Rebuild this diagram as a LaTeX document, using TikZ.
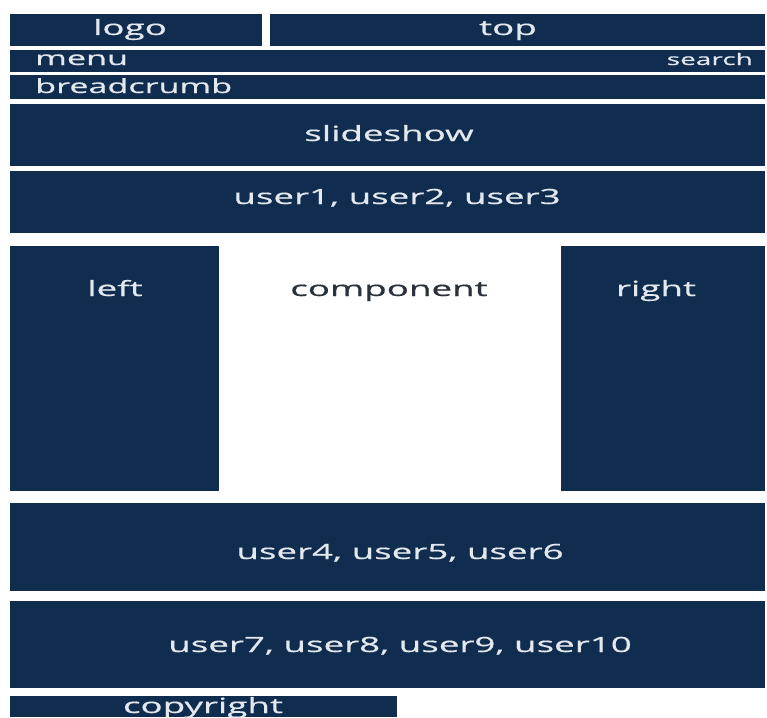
\documentclass[tikz,border=0pt]{standalone}
\usepackage{fontspec}
\setmainfont{Open Sans}[FakeStretch=1.75,FakeBold=0.6]
\usepackage{xcolor}
\usepackage{tikz}
\definecolor{navy}{RGB}{16,44,79}
\definecolor{pale}{RGB}{226,232,238}
\definecolor{ink}{RGB}{42,50,60}

\begin{document}
\begin{tikzpicture}[x=1pt,y=-1pt,
    block/.style={fill=navy, draw=none, inner sep=0pt, outer sep=0pt},
    big/.style={text=pale, font=\fontsize{21}{21}\selectfont, anchor=base, inner sep=0pt},
    small/.style={text=pale, font=\fontsize{19.5}{19.5}\selectfont, anchor=base, inner sep=0pt}]
                    \useasboundingbox[fill=white] (0,0) rectangle (767,717);

                    % header
                    \node[block, minimum width=252pt, minimum height=32pt] (logo) at (136,30) {};
                    \node[block, minimum width=495pt, minimum height=32pt] (top) at (517.5,30) {};
                    \node[block, minimum width=755pt, minimum height=22pt] (menu) at (387.5,61) {};
                    \node[block, minimum width=755pt, minimum height=24pt] (crumb) at (387.5,87) {};
                    \node[block, minimum width=755pt, minimum height=62pt] (slides) at (387.5,135) {};
                    \node[block, minimum width=755pt, minimum height=62pt] (userA) at (387.5,202) {};

                    % columns
                    \node[block, minimum width=209pt, minimum height=245pt] (left) at (114.5,368.5) {};
                    \node[block, minimum width=204pt, minimum height=245pt] (right) at (663,368.5) {};

                    % footer
                    \node[block, minimum width=755pt, minimum height=88pt] (userB) at (387.5,547) {};
                    \node[block, minimum width=755pt, minimum height=87pt] (userC) at (387.5,644.5) {};
                    \node[block, minimum width=387pt, minimum height=21pt] (copy) at (203.5,706.5) {};

                    % labels
                    \node[big] (logoT) at (130,35) {logo};
                    \node[big] (topT) at (508,35) {top};
                    \node[small, anchor=base west] (menuT) at (35,65) {menu};
                    \node[small, anchor=base east, font=\fontsize{16}{16}\selectfont] (searchT) at (753,65) {search};
                    \node[small, anchor=base west] (crumbT) at (35,93) {breadcrumb};
                    \node[big] (slidesT) at (389,141) {slideshow};
                    \node[big] (userAT) at (397,204) {user1, user2, user3};
                    \node[big] (leftT) at (115,296) {left};
                    \node[big, text=ink] (compT) at (389,296) {component};
                    \node[big] (rightT) at (656,296) {right};
                    \node[big] (userBT) at (400,559) {user4, user5, user6};
                    \node[big] (userCT) at (400,652) {user7, user8, user9, user10};
                    \node[big] (copyT) at (203,713) {copyright};
                 \end{tikzpicture}
\end{document}
